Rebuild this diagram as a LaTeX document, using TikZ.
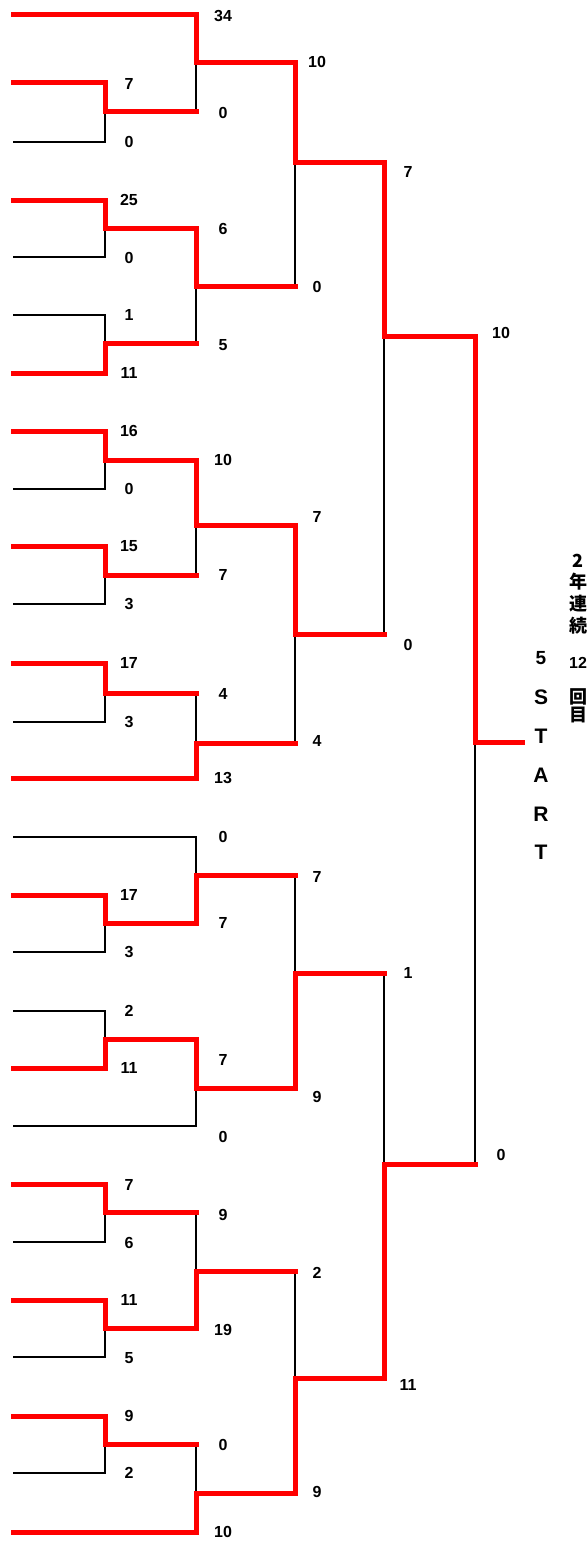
\documentclass[tikz,border=0pt]{standalone}
\usepackage{fontspec}
\setsansfont{Liberation Sans}
\newfontfamily\cjk{Noto Sans CJK JP}
\usepackage{tikz}

\begin{document}
\begin{tikzpicture}[
    x=1pt, y=-1pt,
    win/.style={draw=red, line width=5pt, line cap=rect},
    lose/.style={draw=black, line width=1.6pt},
    score/.style={font=\sffamily\bfseries\fontsize{16}{16}\selectfont, inner sep=0pt},
    banner/.style={font=\sffamily\bfseries\fontsize{21}{38.75}\selectfont, align=center, inner sep=0pt},
    note/.style={font=\cjk\bfseries\fontsize{18}{21.7}\selectfont, align=center, inner sep=0pt}
]

\path[fill=white] (0,0) rectangle (588,1544);

% Teams
\coordinate (leaf1) at (13,15);
\coordinate (leaf2) at (13,83);
\coordinate (leaf3) at (13,142);
\coordinate (leaf4) at (13,200);
\coordinate (leaf5) at (13,257);
\coordinate (leaf6) at (13,315);
\coordinate (leaf7) at (13,373);
\coordinate (leaf8) at (13,431);
\coordinate (leaf9) at (13,489);
\coordinate (leaf10) at (13,546);
\coordinate (leaf11) at (13,604);
\coordinate (leaf12) at (13,663);
\coordinate (leaf13) at (13,722);
\coordinate (leaf14) at (13,778);
\coordinate (leaf15) at (13,837);
\coordinate (leaf16) at (13,895);
\coordinate (leaf17) at (13,952);
\coordinate (leaf18) at (13,1011);
\coordinate (leaf19) at (13,1068);
\coordinate (leaf20) at (13,1126);
\coordinate (leaf21) at (13,1184);
\coordinate (leaf22) at (13,1242);
\coordinate (leaf23) at (13,1300);
\coordinate (leaf24) at (13,1357);
\coordinate (leaf25) at (13,1416);
\coordinate (leaf26) at (13,1473);
\coordinate (leaf27) at (13,1532);

% First round
\coordinate (rA1) at (105,112);
\coordinate (rA2) at (105,228);
\coordinate (rA3) at (105,343);
\coordinate (rA4) at (105,460);
\coordinate (rA5) at (105,575);
\coordinate (rA6) at (105,693);
\coordinate (rA7) at (105,923);
\coordinate (rA8) at (105,1039);
\coordinate (rA9) at (105,1212);
\coordinate (rA10) at (105,1328);
\coordinate (rA11) at (105,1444);

% Second round
\coordinate (rB1) at (196,63);
\coordinate (rB2) at (196,286);
\coordinate (rB3) at (196,525);
\coordinate (rB4) at (196,743);
\coordinate (rB5) at (196,875);
\coordinate (rB6) at (196,1088);
\coordinate (rB7) at (196,1271);
\coordinate (rB8) at (196,1493);

% Third round, semis, final
\coordinate (rC1) at (295,162);
\coordinate (rC2) at (295,634);
\coordinate (rC3) at (295,973);
\coordinate (rC4) at (295,1378);
\coordinate (rD1) at (384,336);
\coordinate (rD2) at (384,1164);
\coordinate (rE) at (475,742);
\coordinate (goal) at (522,742);

% Losing lines
\draw[lose] (leaf3) -| (rA1);
\draw[lose] (leaf5) -| (rA2);
\draw[lose] (leaf6) -| (rA3);
\draw[lose] (leaf9) -| (rA4);
\draw[lose] (leaf11) -| (rA5);
\draw[lose] (leaf13) -| (rA6);
\draw[lose] (leaf15) -| (rB5);
\draw[lose] (leaf17) -| (rA7);
\draw[lose] (leaf18) -| (rA8);
\draw[lose] (leaf20) -| (rB6);
\draw[lose] (leaf22) -| (rA9);
\draw[lose] (leaf24) -| (rA10);
\draw[lose] (leaf26) -| (rA11);
\draw[lose] (rA1 -| rB1) -- (rB1);
\draw[lose] (rA3 -| rB2) -- (rB2);
\draw[lose] (rA5 -| rB3) -- (rB3);
\draw[lose] (rA6 -| rB4) -- (rB4);
\draw[lose] (rA9 -| rB7) -- (rB7);
\draw[lose] (rA11 -| rB8) -- (rB8);
\draw[lose] (rB2 -| rC1) -- (rC1);
\draw[lose] (rB4 -| rC2) -- (rC2);
\draw[lose] (rB5 -| rC3) -- (rC3);
\draw[lose] (rB7 -| rC4) -- (rC4);
\draw[lose] (rC2 -| rD1) -- (rD1);
\draw[lose] (rC3 -| rD2) -- (rD2);
\draw[lose] (rD2 -| rE) -- (rE);

% Winning lines
\draw[win] (leaf1) -| (rB1);
\draw[win] (leaf2) -| (rA1);
\draw[win] (leaf4) -| (rA2);
\draw[win] (leaf7) -| (rA3);
\draw[win] (leaf8) -| (rA4);
\draw[win] (leaf10) -| (rA5);
\draw[win] (leaf12) -| (rA6);
\draw[win] (leaf14) -| (rB4);
\draw[win] (leaf16) -| (rA7);
\draw[win] (leaf19) -| (rA8);
\draw[win] (leaf21) -| (rA9);
\draw[win] (leaf23) -| (rA10);
\draw[win] (leaf25) -| (rA11);
\draw[win] (leaf27) -| (rB8);
\draw[win] (rA1) -- (rA1 -| rB1);
\draw[win] (rA2) -| (rB2);
\draw[win] (rA3) -- (rA3 -| rB2);
\draw[win] (rA4) -| (rB3);
\draw[win] (rA5) -- (rA5 -| rB3);
\draw[win] (rA6) -- (rA6 -| rB4);
\draw[win] (rA7) -| (rB5);
\draw[win] (rA8) -| (rB6);
\draw[win] (rA9) -- (rA9 -| rB7);
\draw[win] (rA10) -| (rB7);
\draw[win] (rA11) -- (rA11 -| rB8);
\draw[win] (rB1) -| (rC1);
\draw[win] (rB2) -- (rB2 -| rC1);
\draw[win] (rB3) -| (rC2);
\draw[win] (rB4) -- (rB4 -| rC2);
\draw[win] (rB5) -- (rB5 -| rC3);
\draw[win] (rB6) -| (rC3);
\draw[win] (rB7) -- (rB7 -| rC4);
\draw[win] (rB8) -| (rC4);
\draw[win] (rC1) -| (rD1);
\draw[win] (rC2) -- (rC2 -| rD1);
\draw[win] (rC3) -- (rC3 -| rD2);
\draw[win] (rC4) -| (rD2);
\draw[win] (rD1) -| (rE);
\draw[win] (rD2) -- (rD2 -| rE);
\draw[win] (rE) -- (goal);

% First round scores
\node[score] (r1s1) at (129,84) {7};
\node[score] (r1s2) at (129,142) {0};
\node[score] (r1s3) at (129,200) {25};
\node[score] (r1s4) at (129,258) {0};
\node[score] (r1s5) at (129,315) {1};
\node[score] (r1s6) at (129,373) {11};
\node[score] (r1s7) at (129,431) {16};
\node[score] (r1s8) at (129,489) {0};
\node[score] (r1s9) at (129,546) {15};
\node[score] (r1s10) at (129,604) {3};
\node[score] (r1s11) at (129,663) {17};
\node[score] (r1s12) at (129,722) {3};
\node[score] (r1s13) at (129,895) {17};
\node[score] (r1s14) at (129,952) {3};
\node[score] (r1s15) at (129,1011) {2};
\node[score] (r1s16) at (129,1068) {11};
\node[score] (r1s17) at (129,1185) {7};
\node[score] (r1s18) at (129,1243) {6};
\node[score] (r1s19) at (129,1300) {11};
\node[score] (r1s20) at (129,1358) {5};
\node[score] (r1s21) at (129,1416) {9};
\node[score] (r1s22) at (129,1473) {2};

% Second round scores
\node[score] (r2s1) at (223,16) {34};
\node[score] (r2s2) at (223,113) {0};
\node[score] (r2s3) at (223,229) {6};
\node[score] (r2s4) at (223,345) {5};
\node[score] (r2s5) at (223,460) {10};
\node[score] (r2s6) at (223,575) {7};
\node[score] (r2s7) at (223,694) {4};
\node[score] (r2s8) at (223,778) {13};
\node[score] (r2s9) at (223,837) {0};
\node[score] (r2s10) at (223,923) {7};
\node[score] (r2s11) at (223,1060) {7};
\node[score] (r2s12) at (223,1137) {0};
\node[score] (r2s13) at (223,1215) {9};
\node[score] (r2s14) at (223,1330) {19};
\node[score] (r2s15) at (223,1445) {0};
\node[score] (r2s16) at (223,1532) {10};

% Third round scores
\node[score] (r3s1) at (317,62) {10};
\node[score] (r3s2) at (317,287) {0};
\node[score] (r3s3) at (317,517) {7};
\node[score] (r3s4) at (317,741) {4};
\node[score] (r3s5) at (317,877) {7};
\node[score] (r3s6) at (317,1097) {9};
\node[score] (r3s7) at (317,1273) {2};
\node[score] (r3s8) at (317,1492) {9};

% Semis and final
\node[score] (r4s1) at (408,172) {7};
\node[score] (r4s2) at (408,645) {0};
\node[score] (r4s3) at (408,973) {1};
\node[score] (r4s4) at (408,1385) {11};
\node[score] (r5s1) at (501,333) {10};
\node[score] (r5s2) at (501,1155) {0};

% Side texts
\node[score, font=\sffamily\bfseries\fontsize{19}{19}\selectfont] (five) at (541,658) {5};
\node[banner] (start) at (541,775) {S\\T\\A\\R\\T};
\node[note] (streak) at (578,594) {2\\年\\連\\続};
\node[score] (times) at (578,663) {12};
\node[note, font=\cjk\bfseries\fontsize{18}{18}\selectfont] (nth) at (578,706) {回\\目};

\end{tikzpicture}
\end{document}
